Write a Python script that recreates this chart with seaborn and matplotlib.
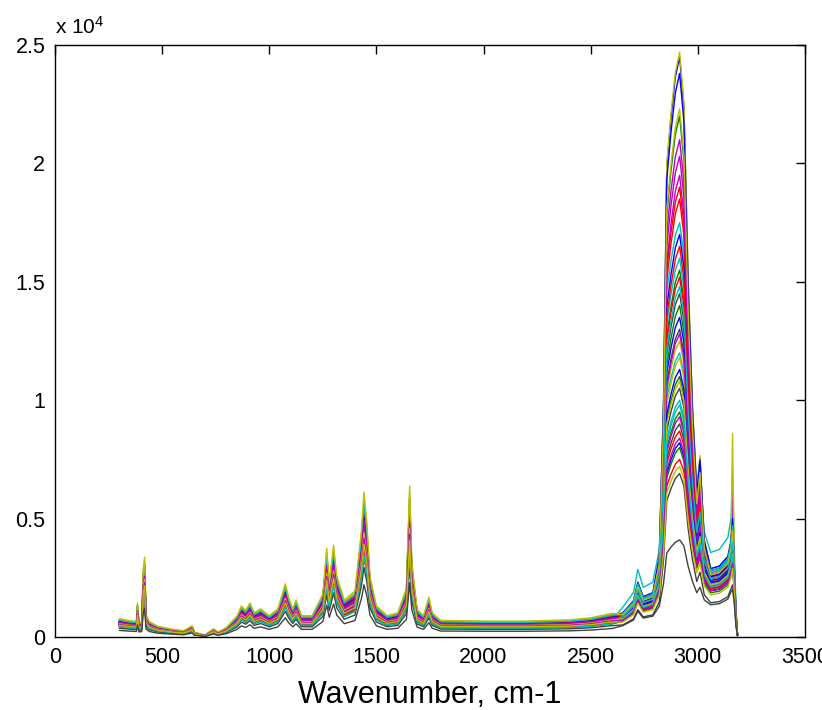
import numpy as np
import pandas as pd
import matplotlib
matplotlib.use('Agg')
import matplotlib.pyplot as plt
import seaborn as sns

# ── Base fingerprint profile (typical spectrum) ────────────────────────
FP_X = [300, 340, 380, 385, 392, 405, 412, 418, 425, 440, 480, 550, 600,
        640, 650, 700, 740, 760, 800, 850, 870, 890, 910, 930, 960, 1000,
        1040, 1075, 1090, 1110, 1125, 1150, 1200, 1250, 1268, 1280, 1300,
        1315, 1350, 1400, 1430, 1442, 1455, 1470, 1500, 1550, 1600, 1640,
        1655, 1665, 1690, 1720, 1745, 1760, 1800, 2000, 2200, 2400, 2500,
        2600]
FP_Y = [620, 560, 520, 1150, 470, 520, 2300, 2700, 750, 520, 360, 260, 210,
        380, 160, 60, 280, 160, 320, 720, 1050, 900, 1150, 820, 950, 720,
        950, 1800, 1350, 950, 1250, 720, 720, 1450, 3000, 1850, 3100,
        2050, 1250, 1550, 3600, 4900, 3900, 2050, 1050, 720, 820, 1650,
        5100, 2550, 920, 720, 1350, 820, 560, 540, 540, 580, 650,
        800]

# ── C-H stretch region nodes ──────────────────────────────────────────
CH_X = [2650, 2700, 2720, 2745, 2790, 2820, 2840, 2855, 2875, 2895, 2915,
        2935, 2955, 2975, 2995, 3010, 3030, 3060, 3100, 3140, 3155, 3162,
        3170, 3178, 3185]
CH_PEAK_FRAC = [0, 0, 0, 0, 0, 0.04, 0.33, 0.78, 0.88, 0.96, 1.0, 0.9,
                0.55, 0.3, 0.14, 0.2, 0.05, 0, 0, 0, 0, 0, 0, 0, 0]
CH_PLAT_FRAC = [0.3, 0.45, 0.68, 0.5, 0.55, 0.75, 0.9, 1.0, 1.0, 1.0, 1.0,
                1.0, 1.0, 1.0, 0.95, 1.0, 0.9, 0.85, 0.88, 1.0, 1.2, 0,
                0.9, 0.3, 0.03]
CH_SPIKE_FRAC = [0] * 21 + [1, 0, 0, 0]

# ── Per-spectrum values ───────────────────────────────────────────────
FP_SCALE = [1.15, 0.95, 1.05, 0.90, 1.10, 1.20, 0.85,
            1.00, 0.90, 1.10, 0.95, 1.00, 1.05, 0.80,
            1.05, 0.85, 1.00, 1.15, 0.90, 0.95, 0.75,
            0.95, 0.80, 0.90, 0.85, 1.00, 1.25, 0.70,
            0.90, 0.75, 0.85, 0.80, 0.95, 0.90, 0.60,
            0.80, 0.70, 0.75, 0.70, 0.85, 0.80, 0.45]
CH_PEAK = [24500, 22000, 19000, 17500, 21000, 24700, 14500,
           23800, 15500, 18500, 16000, 20300, 12500, 13000,
           17000, 14000, 15200, 12000, 19500, 11800, 10500,
           13500, 11000, 16500, 10000, 12800, 22300, 9000,
           11300, 9500, 8700, 14800, 9300, 10800, 6900,
           8200, 8000, 7500, 9800, 8400, 7200, 4100]
CH_PLATEAU = [3300, 3000, 3100, 4200, 3200, 3400, 2900,
              3400, 2700, 3000, 3300, 3100, 2800, 2600,
              3000, 2600, 2900, 3200, 2700, 2800, 2400,
              2800, 2500, 2900, 2600, 2700, 3100, 2300,
              2700, 2400, 2500, 2900, 2500, 2600, 1700,
              2300, 2200, 2400, 2500, 2300, 2100, 1600]
CH_SPIKE = [4800, 4200, 5200, 7000, 6000, 8600, 3800,
            5000, 3600, 4200, 4600, 4400, 3900, 3500,
            4300, 3500, 4000, 4700, 3600, 3900, 3200,
            3900, 3400, 4100, 3500, 3700, 4500, 3100,
            3700, 3300, 3400, 4000, 3300, 3500, 2200,
            3100, 3000, 3200, 3400, 3100, 2900, 2000]

MATLAB_COLORS = [(0, 0, 1), (0, 0.5, 0), (1, 0, 0), (0, 0.75, 0.75),
                 (0.75, 0, 0.75), (0.75, 0.75, 0), (0.25, 0.25, 0.25)]

# ── Build long-form table ─────────────────────────────────────────────
fp_x = np.array(FP_X)
fp_y = np.array(FP_Y, dtype=float)
ch_x = np.array(CH_X)
pk_f = np.array(CH_PEAK_FRAC)
pl_f = np.array(CH_PLAT_FRAC)
sp_f = np.array(CH_SPIKE_FRAC)

rows = []
for i in range(len(CH_PEAK)):
    y_fp = fp_y * FP_SCALE[i]
    # peak height is the top of the band, plateau sits under it
    y_ch = ((CH_PEAK[i] - CH_PLATEAU[i]) * pk_f + CH_PLATEAU[i] * pl_f
            + CH_SPIKE[i] * sp_f)
    rows.append(pd.DataFrame({'wavenumber': np.concatenate([fp_x, ch_x]),
                              'intensity': np.concatenate([y_fp, y_ch]),
                              'spectrum': i}))
df = pd.concat(rows, ignore_index=True)

palette = [MATLAB_COLORS[i % 7] for i in range(len(CH_PEAK))]

# ── Plot ──────────────────────────────────────────────────────────────
sns.set_style('white')
plt.rcParams['font.family'] = ['Liberation Sans', 'DejaVu Sans']
plt.rcParams['mathtext.default'] = 'regular'
for k in ['text.color', 'axes.labelcolor', 'xtick.color', 'ytick.color']:
    plt.rcParams[k] = 'black'

fig = plt.figure(figsize=(8.22, 7.10), dpi=100)
ax = fig.add_axes([0.0669, 0.1028, 0.9124, 0.8338])

sns.lineplot(data=df, x='wavenumber', y='intensity', hue='spectrum',
             palette=palette, legend=False, estimator=None, sort=False,
             linewidth=1.0, ax=ax)

ax.set_xlim(0, 3500)
ax.set_ylim(0, 25000)
ax.set_xticks([0, 500, 1000, 1500, 2000, 2500, 3000, 3500])
ax.set_yticks([0, 5000, 10000, 15000, 20000, 25000])
ax.set_yticklabels(['0', '0.5', '1', '1.5', '2', '2.5'])
ax.tick_params(direction='in', length=6.5, width=1, top=True, right=True,
               labelsize=15.5, colors='black', pad=7)
for s in ax.spines.values():
    s.set_visible(True)
    s.set_color('black')
    s.set_linewidth(1.0)
ax.set_xlabel('Wavenumber, cm-1', fontsize=22, labelpad=9)
ax.set_ylabel('')
ax.text(0.0, 1.012, r'x 10$^{4}$', transform=ax.transAxes, fontsize=15,
        ha='left', va='bottom')

fig.savefig('out.png', dpi=100)
